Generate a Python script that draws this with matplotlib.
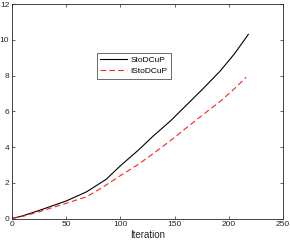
import matplotlib.pyplot as plt

plt.rcParams['font.family'] = ['Liberation Sans', 'DejaVu Sans']

# values
iters_a = [0, 10, 25, 50, 69, 87, 100, 117, 130, 146, 161, 176, 192, 205, 218]
sto = [0, 0.15, 0.45, 0.98, 1.5, 2.2, 2.95, 3.85, 4.6, 5.45, 6.35, 7.25, 8.25, 9.2, 10.3]

iters_b = [0, 10, 25, 50, 69, 85, 100, 117, 130, 146, 161, 176, 192, 205, 216]
isto = [0, 0.12, 0.38, 0.85, 1.22, 1.8, 2.4, 3.05, 3.62, 4.35, 5.08, 5.8, 6.55, 7.25, 7.9]

xticks = [0, 50, 100, 150, 200, 250]
yticks = [0, 2, 4, 6, 8, 10, 12]

fig = plt.figure(figsize=(2.9, 2.44), dpi=100)
ax = fig.add_axes([0.0414, 0.1045, 0.9346, 0.8791])

ax.plot(iters_a, sto, color='black', lw=0.8, label='StoDCuP')
ax.plot(iters_b, isto, color='#ff2020', lw=0.8, ls=(0, (5, 3)), label='IStoDCuP')

ax.set_xlim(0, 250)
ax.set_ylim(0, 12)
ax.set_xticks(xticks)
ax.set_yticks(yticks)
ax.tick_params(direction='in', top=True, right=True, labelsize=6, length=2.5,
               width=0.5, pad=2, colors='#262626')
for s in ax.spines.values():
    s.set_linewidth(0.6)
    s.set_color('#262626')
ax.set_xlabel('Iteration', fontsize=7, labelpad=1, color='#262626')

leg = ax.legend(loc='upper left', bbox_to_anchor=(0.314, 0.772), fontsize=6,
                frameon=True, fancybox=False, handlelength=3.2, borderpad=0.4,
                labelspacing=0.4, handletextpad=0.4, borderaxespad=0)
leg.get_frame().set_edgecolor('#262626')
leg.get_frame().set_linewidth(0.6)

fig.savefig('out.png', dpi=100)
